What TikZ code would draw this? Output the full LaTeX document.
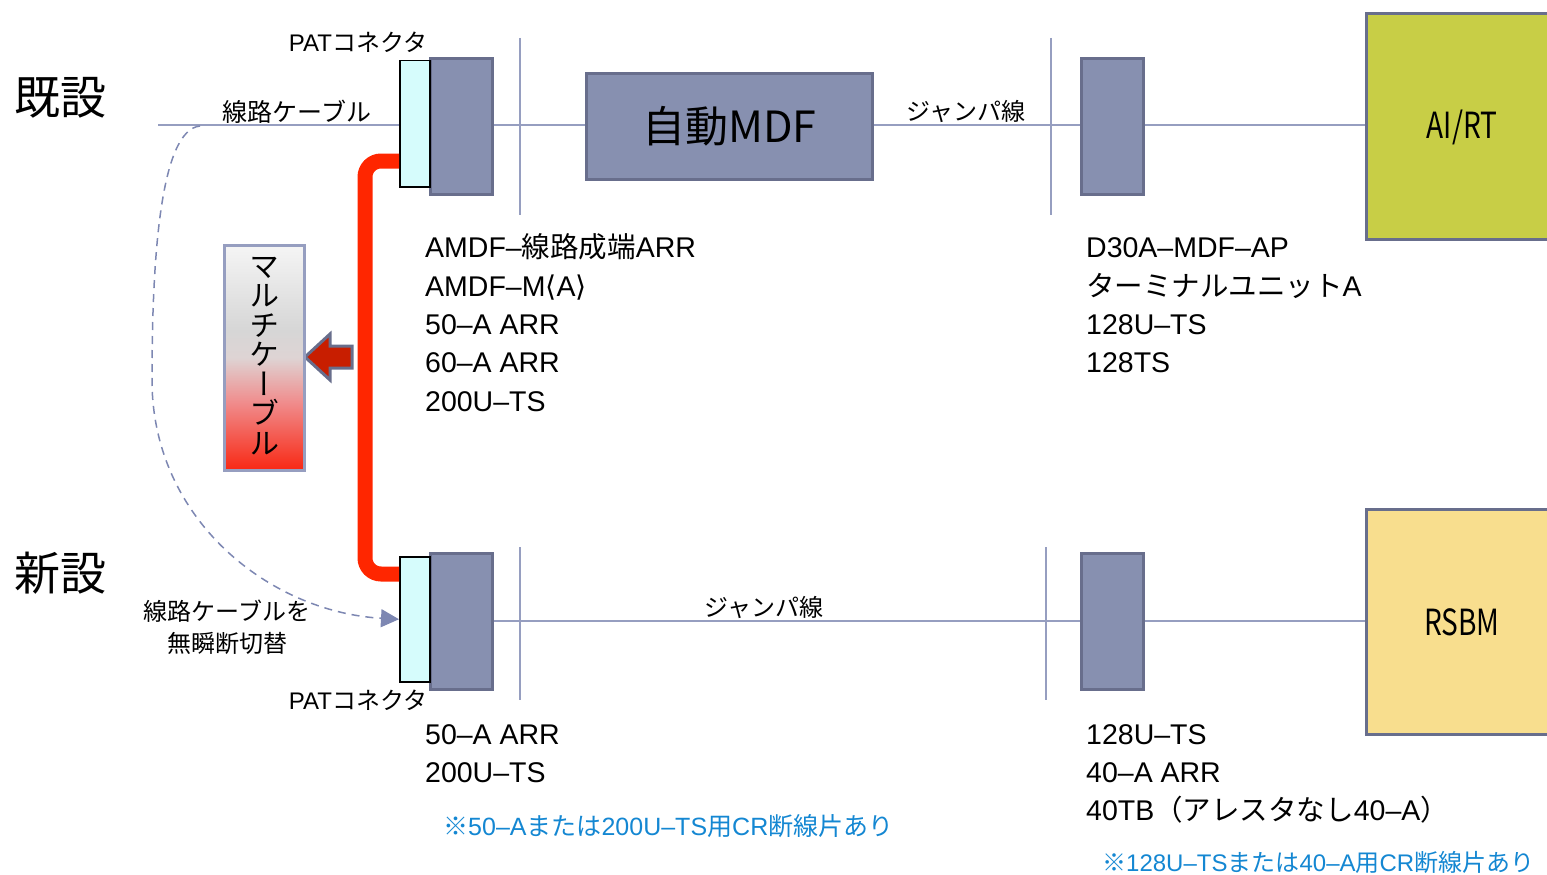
\documentclass[tikz,border=0pt]{standalone}
\usepackage{fontspec}
\setmainfont{Noto Sans CJK JP}
\newfontfamily\condfont[FakeStretch=0.78]{Noto Sans CJK JP}
\newfontfamily\vertfont[RawFeature=+vert]{Noto Sans CJK JP}
\newfontfamily\latfont{Liberation Sans}
\newfontfamily\djfont{DejaVu Sans}
\newcommand\la[1]{{\latfont #1}}
\usetikzlibrary{arrows.meta}
\definecolor{boxgray}{RGB}{135,144,176}
\definecolor{boxedge}{RGB}{104,110,140}
\definecolor{wire}{RGB}{150,158,192}
\definecolor{dashc}{RGB}{125,135,178}
\definecolor{patfill}{RGB}{214,252,252}
\definecolor{cablered}{RGB}{255,38,0}
\definecolor{arrowred}{RGB}{200,30,0}
\definecolor{airt}{RGB}{200,206,70}
\definecolor{rsbm}{RGB}{248,222,142}
\definecolor{notebl}{RGB}{20,135,210}
\definecolor{sh0}{RGB}{248,40,20}
\definecolor{sh1}{RGB}{240,140,140}
\definecolor{sh2}{RGB}{222,212,212}
\definecolor{sh3}{RGB}{214,214,214}
\definecolor{sh4}{RGB}{245,245,245}
\pgfdeclareverticalshading{multishade}{100bp}{color(0bp)=(sh0); color(25bp)=(sh0); color(40bp)=(sh1); color(50bp)=(sh2); color(56bp)=(sh3); color(75bp)=(sh4); color(100bp)=(sh4)}
\tikzset{
  unit/.style={draw=boxedge, line width=3, fill=boxgray, inner sep=0, anchor=north west},
  pat/.style={draw=black, line width=1.5, fill=patfill, inner sep=0, anchor=north west},
  wireline/.style={draw=wire, line width=2},
  lbl/.style={inner sep=0, font=\fontsize{24}{28}\selectfont},
  lst/.style={inner sep=0, anchor=base west, font=\fontsize{28.5}{32}\selectfont},
  note/.style={inner sep=0, anchor=base west, text=notebl, font=\fontsize{25}{30}\selectfont},
  big/.style={inner sep=0, font=\fontsize{46}{50}\selectfont},
}
\begin{document}
\begin{tikzpicture}[x=1pt,y=-1pt]
\useasboundingbox (0,0) rectangle (1547,875);
% wires (behind)
\coordinate (wstart) at (158,125);
\coordinate (wend) at (1365,125);
\draw[wireline] (wstart) -- (wend);
\coordinate (bstart) at (491,621);
\coordinate (bend) at (1365,621);
\draw[wireline] (bstart) -- (bend);
\coordinate (v1a) at (520,38); \coordinate (v1b) at (520,215);
\coordinate (v2a) at (1051,38); \coordinate (v2b) at (1051,215);
\coordinate (v3a) at (520,547); \coordinate (v3b) at (520,700);
\coordinate (v4a) at (1046,547); \coordinate (v4b) at (1046,700);
\draw[wireline] (v1a) -- (v1b);
\draw[wireline] (v2a) -- (v2b);
\draw[wireline] (v3a) -- (v3b);
\draw[wireline] (v4a) -- (v4b);
% top row
\node[unit, minimum width=62, minimum height=136] (ut1) at (429,57) {};
\node[pat, minimum width=30, minimum height=126] (patT) at (399,60) {};
\node[unit, minimum width=286, minimum height=106, font=\fontsize{43}{48}\selectfont] (mdf) at (585,72) {自動MDF};
\node[unit, minimum width=62, minimum height=136] (ut2) at (1080,57) {};
\node[draw=boxedge, line width=3, fill=airt, inner sep=0, anchor=north west, minimum width=200, minimum height=226] (airt) at (1365,12) {};
\node[font=\condfont\fontsize{36}{40}\selectfont, inner sep=0] (airtT) at (1462,127) {AI/RT};
% bottom row
\node[unit, minimum width=62, minimum height=136] (ub1) at (429,552) {};
\node[pat, minimum width=30, minimum height=125] (patB) at (399,556) {};
\node[unit, minimum width=62, minimum height=136] (ub2) at (1080,552) {};
\node[draw=boxedge, line width=3, fill=rsbm, inner sep=0, anchor=north west, minimum width=200, minimum height=225] (rsbm) at (1365,508) {};
\node[font=\condfont\fontsize{36}{40}\selectfont, inner sep=0] (rsbmT) at (1462,622) {RSBM};
% red multi cable
\coordinate (rA) at (399,161);
\coordinate (rB) at (399,574);
\draw[cablered, line width=15, rounded corners=16] (rA) -- (365,161) -- (365,574) -- (rB);
% red arrow
\draw[draw=boxedge, line width=3, fill=arrowred, line join=miter] (305,357) -- (330,334) -- (330,346) -- (352,346) -- (352,368) -- (330,368) -- (330,380) -- cycle;
% multi cable box
\shade[shading=multishade] (224,245) rectangle (304,470);
\draw[draw=wire, line width=3] (224,245) rectangle (304,470);
\node[inner sep=0, align=center, font=\vertfont\fontsize{30}{29.5}\selectfont] (mc) at (264,356) {マ\\ル\\チ\\ケ\\ー\\ブ\\ル};
% dashed switch arrow
\coordinate (dS) at (200,126);
\draw[dashc, line width=1.5, dash pattern=on 8pt off 6pt, -{Triangle[length=18,width=18,fill=dashc]}] (dS) .. controls (160,130) and (152,260) .. (152,380) .. controls (152,520) and (270,612) .. (patB.west);
% labels
\node[big] (kisetsu) at (60,98) {既設};
\node[big] (shinsetsu) at (60,573) {新設};
\node[lbl, font=\fontsize{25}{28}\selectfont] (senro) at (297,112) {線路ケーブル};
\node[lbl] (patTl) at (358,42) {\la{PAT}コネクタ};
\node[lbl] (patBl) at (358,700) {\la{PAT}コネクタ};
\node[lbl] (jt) at (966,111) {ジャンパ線};
\node[lbl] (jb) at (764,607) {ジャンパ線};
\node[lbl] (sw1) at (227,611) {線路ケーブルを};
\node[lbl] (sw2) at (227,643) {無瞬断切替};
% lists
\node[lst] (l1) at (425,257) {\la{AMDF–}線路成端\la{ARR}};
\node[lst] (l2) at (425,296) {\la{AMDF–M}{\djfont ⟨}\la{A}{\djfont ⟩}};
\node[lst] (l3) at (425,334) {\la{50–A ARR}};
\node[lst] (l4) at (425,372) {\la{60–A ARR}};
\node[lst] (l5) at (425,411) {\la{200U–TS}};
\node[lst] (r1) at (1086,257) {\la{D30A–MDF–AP}};
\node[lst] (r2) at (1086,296) {ターミナルユニット\la{A}};
\node[lst] (r3) at (1086,334) {\la{128U–TS}};
\node[lst] (r4) at (1086,372) {\la{128TS}};
\node[lst] (b1) at (425,744) {\la{50–A ARR}};
\node[lst] (b2) at (425,782) {\la{200U–TS}};
\node[lst] (c1) at (1086,744) {\la{128U–TS}};
\node[lst] (c2) at (1086,782) {\la{40–A ARR}};
\node[lst] (c3) at (1086,820) {\la{40TB}（アレスタなし\la{40–A}）};
\node[note] (n1) at (443,835) {※\la{50–A}または\la{200U–TS}用\la{CR}断線片あり};
\node[note, font=\fontsize{24}{28}\selectfont] (n2) at (1102,871) {※\la{128U–TS}または\la{40–A}用\la{CR}断線片あり};
\end{tikzpicture}
\end{document}
